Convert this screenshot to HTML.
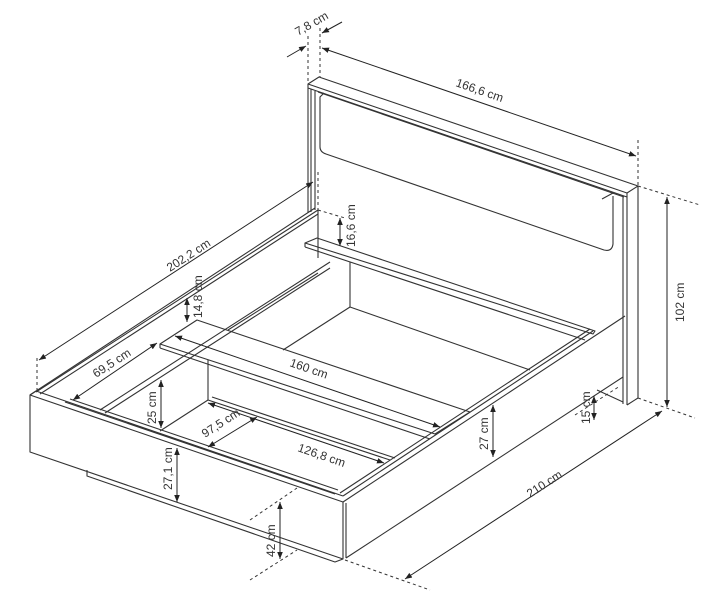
<!DOCTYPE html>
<html><head><meta charset="utf-8"><style>
html,body{margin:0;padding:0;background:#fff;}
svg{display:block;}
text{font-family:"Liberation Sans",sans-serif;font-size:12px;fill:#333;}
</style></head><body>
<svg width="717" height="606" viewBox="0 0 717 606" xmlns="http://www.w3.org/2000/svg">
<defs>
<marker id="a" viewBox="0 0 10 10" refX="10" refY="5" markerWidth="7" markerHeight="7" orient="auto-start-reverse"><path d="M0,1 L10,5 L0,9 z" fill="#222"/></marker>
</defs>
<g fill="none" stroke="#333" stroke-width="1.1" stroke-linejoin="round">
<path d="M308,84 L319,77 L638,186 L627,193 Z"/>
<path d="M308,84 L308,88 L627,197 L627,193"/>
<line x1="318" y1="92" x2="624" y2="197"/>
<path d="M324,93 L320,97 L320,147 Q320,152 326,154 L604,250 Q612,252 613,244 L613,196"/>
<line x1="602" y1="199" x2="613" y2="193"/>
<line x1="308" y1="88" x2="308" y2="213"/>
<line x1="311" y1="89" x2="311" y2="212"/>
<line x1="315" y1="91" x2="315" y2="210"/>
<line x1="318" y1="210" x2="318" y2="258"/>
<line x1="627" y1="197" x2="627" y2="405"/>
<line x1="623" y1="197" x2="623" y2="404"/>
<line x1="638" y1="186" x2="638" y2="398"/>
<line x1="627" y1="405" x2="638" y2="398"/>
<path d="M305,243 L317,238 L595,331 L593,334 Z"/>
<line x1="305" y1="243" x2="305" y2="247"/>
<line x1="305" y1="247" x2="585" y2="340"/>
<line x1="350" y1="262" x2="350" y2="307"/>
<line x1="30" y1="395" x2="315" y2="208"/>
<line x1="36" y1="392" x2="318" y2="210"/>
<line x1="40" y1="394" x2="318" y2="214"/>
<line x1="100" y1="410" x2="330" y2="262"/>
<line x1="105" y1="413" x2="330" y2="268"/>
<line x1="228" y1="330" x2="318" y2="273"/>
<line x1="350" y1="307" x2="530" y2="370"/>
<line x1="350" y1="307" x2="283" y2="350"/>
<line x1="208" y1="360" x2="208" y2="400"/>
<line x1="208" y1="400" x2="390" y2="460"/>
<line x1="212" y1="397" x2="395" y2="458"/>
<line x1="208" y1="400" x2="160" y2="431"/>
<path d="M160,344 L197,320 L470,412 L435,434 Z"/>
<line x1="160" y1="344" x2="160" y2="348"/>
<line x1="160" y1="348" x2="430" y2="439"/>
<path d="M30,395 L343,502 L343,559 L30,452 Z"/>
<line x1="30" y1="395" x2="36" y2="391"/>
<line x1="36" y1="391" x2="343" y2="496"/>
<line x1="65" y1="402" x2="335" y2="494"/>
<line x1="70" y1="399" x2="338" y2="490"/>
<path d="M87,470 L87,476 L335,562 L343,559"/>
<line x1="346" y1="503" x2="346" y2="558"/>
<line x1="343" y1="502" x2="625" y2="316"/>
<line x1="343" y1="496" x2="593" y2="331"/>
<line x1="340" y1="493" x2="590" y2="329"/>
<line x1="346" y1="558" x2="623" y2="377"/>
<line x1="597" y1="390" x2="623" y2="402"/>
</g>
<g fill="none" stroke="#333" stroke-width="1" stroke-dasharray="3,3">
<line x1="308" y1="36" x2="308" y2="84"/>
<line x1="320" y1="28" x2="320" y2="77"/>
<line x1="638" y1="140" x2="638" y2="186"/>
<line x1="638" y1="186" x2="700" y2="205"/>
<line x1="638" y1="398" x2="695" y2="418"/>
<line x1="318" y1="172" x2="318" y2="210"/>
<line x1="318" y1="210" x2="345" y2="218"/>
<line x1="37" y1="358" x2="37" y2="392"/>
<line x1="250" y1="520" x2="297" y2="488"/>
<line x1="250" y1="580" x2="297" y2="550"/>
<line x1="345" y1="560" x2="430" y2="590"/>
<line x1="575" y1="415" x2="620" y2="386"/>
</g>
<g stroke="#222" stroke-width="1" fill="none" marker-end="url(#a)">
<line x1="287" y1="57" x2="306" y2="46"/>
<line x1="342" y1="22" x2="322" y2="33"/>
</g>
<g stroke="#222" stroke-width="1" fill="none" marker-start="url(#a)" marker-end="url(#a)">
<line x1="322" y1="48" x2="636" y2="156"/>
<line x1="39" y1="360" x2="313" y2="182"/>
<line x1="187" y1="298" x2="187" y2="322"/>
<line x1="340" y1="218" x2="340" y2="246"/>
<line x1="73" y1="400" x2="157" y2="343"/>
<line x1="175" y1="336" x2="440" y2="427"/>
<line x1="161" y1="380" x2="161" y2="428"/>
<line x1="208" y1="447" x2="257" y2="417"/>
<line x1="208" y1="403" x2="384" y2="463"/>
<line x1="177" y1="448" x2="177" y2="502"/>
<line x1="280" y1="502" x2="280" y2="559"/>
<line x1="493" y1="405" x2="493" y2="457"/>
<line x1="594" y1="396" x2="594" y2="420"/>
<line x1="667" y1="197" x2="667" y2="407"/>
<line x1="405" y1="579" x2="662" y2="411"/>
</g>
<text transform="translate(298,36) rotate(-30)">7,8 cm</text>
<text transform="translate(455,86) rotate(19)">166,6 cm</text>
<text transform="translate(170,272) rotate(-33)">202,2 cm</text>
<text transform="translate(202,318) rotate(-90)">14,8 cm</text>
<text transform="translate(355,247) rotate(-90)">16,6 cm</text>
<text transform="translate(96,378) rotate(-33)">69,5 cm</text>
<text transform="translate(289,366) rotate(19)">160 cm</text>
<text transform="translate(156,424) rotate(-90)">25 cm</text>
<text transform="translate(205,438) rotate(-33)">97,5 cm</text>
<text transform="translate(297,451) rotate(19)">126,8 cm</text>
<text transform="translate(172,490) rotate(-90)">27,1 cm</text>
<text transform="translate(275,557) rotate(-90)">42 cm</text>
<text transform="translate(488,450) rotate(-90)">27 cm</text>
<text transform="translate(590,424) rotate(-90)">15 cm</text>
<text transform="translate(684,322) rotate(-90)">102 cm</text>
<text transform="translate(530,498) rotate(-33)">210 cm</text>
</svg>
</body></html>
